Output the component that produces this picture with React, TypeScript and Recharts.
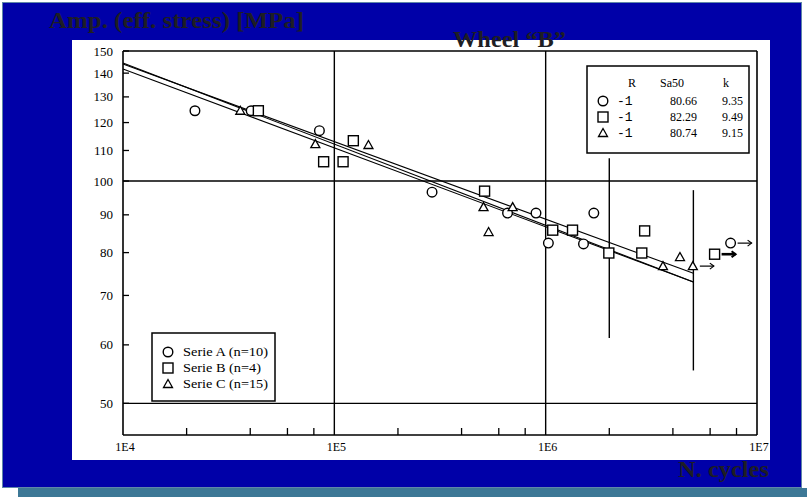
import React from 'react';
import { ComposedChart, Scatter, XAxis, YAxis, ReferenceLine } from 'recharts';

// ---------- data ----------
const xMajorTicks = [1e4, 1e5, 1e6, 1e7];
const xTickLabels = ['1E4', '1E5', '1E6', '1E7'];
const xMinorTicks = [2e4, 4e4, 6e4, 8e4, 2e5, 4e5, 6e5, 8e5, 2e6, 4e6, 6e6, 8e6];
const yTicks = [50, 60, 70, 80, 90, 100, 110, 120, 130, 140, 150];
const gridX = [1e5, 1e6];
const gridY = [100, 50];

// Serie A (circles)
const serieA = [
  { n: 2.19e4, s: 124.5 },
  { n: 4.04e4, s: 124.5 },
  { n: 8.5e4, s: 117.0 },
  { n: 2.9e5, s: 96.6 },
  { n: 6.6e5, s: 90.5 },
  { n: 9.0e5, s: 90.5 },
  { n: 1.03e6, s: 82.4 },
  { n: 1.51e6, s: 82.2 },
  { n: 1.69e6, s: 90.5 },
  { n: 7.5e6, s: 82.4, runout: true },
];
// Serie B (squares)
const serieB = [
  { n: 4.37e4, s: 124.5 },
  { n: 8.9e4, s: 106.2 },
  { n: 1.1e5, s: 106.2 },
  { n: 1.23e5, s: 113.4 },
  { n: 5.14e5, s: 96.9 },
  { n: 1.08e6, s: 85.8 },
  { n: 1.34e6, s: 85.8 },
  { n: 1.99e6, s: 79.9 },
  { n: 2.94e6, s: 85.6 },
  { n: 2.85e6, s: 79.9 },
  { n: 6.3e6, s: 79.6, runout: true },
];
// Serie C (triangles)
const serieC = [
  { n: 3.59e4, s: 124.5 },
  { n: 8.13e4, s: 112.2 },
  { n: 1.45e5, s: 111.9 },
  { n: 5.08e5, s: 92.2 },
  { n: 6.98e5, s: 92.2 },
  { n: 5.37e5, s: 85.3 },
  { n: 3.59e6, s: 76.7 },
  { n: 4.32e6, s: 78.9 },
  { n: 4.97e6, s: 76.7, runout: true },
];

// regression lines (endpoints)
const fitA = [{ x: 1e4, y: 141.8 }, { x: 5e6, y: 73.0 }];
const fitB = [{ x: 1e4, y: 144.0 }, { x: 5e6, y: 75.0 }];
const fitC = [{ x: 1e4, y: 144.5 }, { x: 5e6, y: 73.0 }];

// scatter bands
const band1 = [{ x: 2e6, y: 107.4 }, { x: 2e6, y: 61.3 }];
const band2 = [{ x: 5e6, y: 97.2 }, { x: 5e6, y: 55.4 }];

// legend / table
const seriesNames = ['Serie A', 'Serie B', 'Serie C'];
const seriesCounts = [10, 4, 15];
const seriesR = ['-1', '-1', '-1'];
const seriesSa50 = ['80.66', '82.29', '80.74'];
const seriesK = ['9.35', '9.49', '9.15'];
const seriesShapes = ['circle', 'square', 'triangle'];

const titleY = 'Amp. (eff. stress)   [MPa]';
const titleChart = 'Wheel \u201cB\u201d';
const titleX = 'N. cycles';

// ---------- styles ----------
const SMALL_FONT = '"Liberation Serif", "Times New Roman", serif';

function Marker({ kind, cx, cy }: { kind: string; cx: number; cy: number }) {
  if (kind === 'circle') {
    return <circle cx={cx} cy={cy} r={4.8} fill="#fff" stroke="#000" strokeWidth={1.4} />;
  }
  if (kind === 'square') {
    return <rect x={cx - 5} y={cy - 5} width={10} height={10} fill="#fff" stroke="#000" strokeWidth={1.4} />;
  }
  return (
    <polygon
      points={`${cx},${cy - 4.5} ${cx + 4.5},${cy + 3.5} ${cx - 4.5},${cy + 3.5}`}
      fill="#fff"
      stroke="#000"
      strokeWidth={1.3}
    />
  );
}

const makeShape = (kind: string, bold: boolean) => (props: any) => {
  const { cx, cy, payload } = props;
  return (
    <g>
      <Marker kind={kind} cx={cx} cy={cy} />
      {payload && payload.runout ? (
        <g>
          <line x1={cx + 7} y1={cy} x2={cx + 21} y2={cy} stroke="#000" strokeWidth={bold ? 2.6 : 1.2} />
          <polyline
            points={`${cx + 17},${cy - 3} ${cx + 21},${cy} ${cx + 17},${cy + 3}`}
            fill="none"
            stroke="#000"
            strokeWidth={bold ? 2 : 1.2}
          />
        </g>
      ) : null}
    </g>
  );
};

const XTick = (props: any) => {
  const { x, y, payload } = props;
  const idx = xMajorTicks.indexOf(payload.value);
  if (idx >= 0) {
    return (
      <text x={x + 2} y={y + 16} textAnchor="middle" fontFamily={SMALL_FONT} fontSize={12} fill="#000">
        {xTickLabels[idx]}
      </text>
    );
  }
  return <line x1={x} x2={x} y1={y} y2={y - 7} stroke="#000" strokeWidth={1.3} />;
};

const YTick = (props: any) => {
  const { x, y, payload } = props;
  return (
    <g>
      <line x1={x} x2={x + 6} y1={y} y2={y} stroke="#000" strokeWidth={1.3} />
      <text x={x - 10} y={y + 4.5} textAnchor="end" fontFamily={SMALL_FONT} fontSize={13} fill="#000">
        {payload.value}
      </text>
    </g>
  );
};

export default function App() {
  const allXTicks = [...xMajorTicks, ...xMinorTicks].sort((a, b) => a - b);
  return (
    <div style={{ position: 'absolute', left: 0, top: 0, width: 807, height: 497, background: '#ffffff', overflow: 'hidden' }}>
      {/* blue frame */}
      <div style={{ position: 'absolute', left: 2, top: 2, width: 798, height: 484, background: '#0000A8', border: '1px solid #5f86a8' }} />
      {/* teal strip */}
      <div style={{ position: 'absolute', left: 18, top: 488, width: 789, height: 9, background: '#3D7896' }} />
      {/* white panel */}
      <div style={{ position: 'absolute', left: 72, top: 40, width: 698, height: 420, background: '#ffffff' }} />

      <div style={{ position: 'absolute', left: 0, top: 0 }}>
        <ComposedChart width={807} height={497} margin={{ top: 51, right: 50, bottom: 32, left: 73 }}>
          <XAxis
            type="number"
            dataKey="n"
            scale="log"
            domain={[1e4, 1e7]}
            allowDataOverflow
            ticks={allXTicks}
            interval={0}
            tickSize={0}
            tickMargin={0}
            height={30}
            axisLine={{ stroke: '#000', strokeWidth: 1.6 }}
            tickLine={false}
            tick={<XTick />}
          />
          <YAxis
            type="number"
            dataKey="s"
            scale="log"
            domain={[45.3, 150]}
            allowDataOverflow
            ticks={yTicks}
            interval={0}
            tickSize={0}
            tickMargin={0}
            width={50}
            axisLine={{ stroke: '#000', strokeWidth: 1.6 }}
            tickLine={false}
            tick={<YTick />}
          />
          {/* frame top / right */}
          <ReferenceLine y={150} stroke="#000" strokeWidth={1.6} ifOverflow="visible" />
          <ReferenceLine x={1e7} stroke="#000" strokeWidth={1.6} ifOverflow="visible" />
          {gridX.map((g) => (
            <ReferenceLine key={'gx' + g} x={g} stroke="#000" strokeWidth={1.4} />
          ))}
          {gridY.map((g) => (
            <ReferenceLine key={'gy' + g} y={g} stroke="#000" strokeWidth={1.4} />
          ))}
          <ReferenceLine segment={band1} stroke="#000" strokeWidth={1.4} ifOverflow="visible" />
          <ReferenceLine segment={band2} stroke="#000" strokeWidth={1.4} ifOverflow="visible" />
          <ReferenceLine segment={fitA} stroke="#000" strokeWidth={1.1} ifOverflow="visible" />
          <ReferenceLine segment={fitB} stroke="#000" strokeWidth={1.1} ifOverflow="visible" />
          <ReferenceLine segment={fitC} stroke="#000" strokeWidth={1.1} ifOverflow="visible" />
          <Scatter name="Serie A" data={serieA} dataKey="s" isAnimationActive={false} shape={makeShape('circle', false)} />
          <Scatter name="Serie B" data={serieB} dataKey="s" isAnimationActive={false} shape={makeShape('square', true)} />
          <Scatter name="Serie C" data={serieC} dataKey="s" isAnimationActive={false} shape={makeShape('triangle', false)} />
        </ComposedChart>
      </div>

      {/* overlay: titles and legend boxes */}
      <svg width={807} height={497} style={{ position: 'absolute', left: 0, top: 0, pointerEvents: 'none' }}>
        <text x={49} y={28} fontFamily='"Liberation Serif", serif' fontWeight="bold" fontSize={24} fill="#1e1e24" textLength={255} lengthAdjust="spacingAndGlyphs">
          {titleY}
        </text>
        <text x={453} y={47} fontFamily='"Liberation Serif", serif' fontWeight="bold" fontSize={24} fill="#1e1e24" textLength={113} lengthAdjust="spacingAndGlyphs">
          {titleChart}
        </text>
        <text x={678} y={477} fontFamily='"Liberation Serif", serif' fontWeight="bold" fontSize={23} fill="#1e1e24" textLength={91} lengthAdjust="spacingAndGlyphs">
          {titleX}
        </text>

        {/* statistics box */}
        <rect x={587} y={66} width={162} height={87} fill="#fff" stroke="#000" strokeWidth={1.5} />
        <text x={632} y={87} textAnchor="middle" fontFamily={SMALL_FONT} fontSize={12} fill="#000">R</text>
        <text x={672} y={87} textAnchor="middle" fontFamily={SMALL_FONT} fontSize={12} fill="#000">Sa50</text>
        <text x={726} y={87} textAnchor="middle" fontFamily={SMALL_FONT} fontSize={12} fill="#000">k</text>
        {seriesNames.map((nm, i) => {
          const cy = 101 + i * 16;
          return (
            <g key={'st' + nm}>
              <Marker kind={seriesShapes[i]} cx={603} cy={cy} />
              <text x={617} y={cy + 4} fontFamily='"Liberation Mono", monospace' fontSize={13} fill="#000">{seriesR[i]}</text>
              <text x={697} y={cy + 4} textAnchor="end" fontFamily={SMALL_FONT} fontSize={12} fill="#000">{seriesSa50[i]}</text>
              <text x={743} y={cy + 4} textAnchor="end" fontFamily={SMALL_FONT} fontSize={12} fill="#000">{seriesK[i]}</text>
            </g>
          );
        })}

        {/* series legend box */}
        <rect x={152} y={333} width={123} height={68} fill="#fff" stroke="#000" strokeWidth={1.5} />
        {seriesNames.map((nm, i) => {
          const cy = 352 + i * 16;
          return (
            <g key={'lg' + nm}>
              <Marker kind={seriesShapes[i]} cx={168} cy={cy} />
              <text x={183} y={cy + 4} fontFamily={SMALL_FONT} fontSize={12} fill="#000" textLength={i === 1 ? 78 : 85} lengthAdjust="spacingAndGlyphs">
                {`${nm} (n=${seriesCounts[i]})`}
              </text>
            </g>
          );
        })}
      </svg>
    </div>
  );
}
